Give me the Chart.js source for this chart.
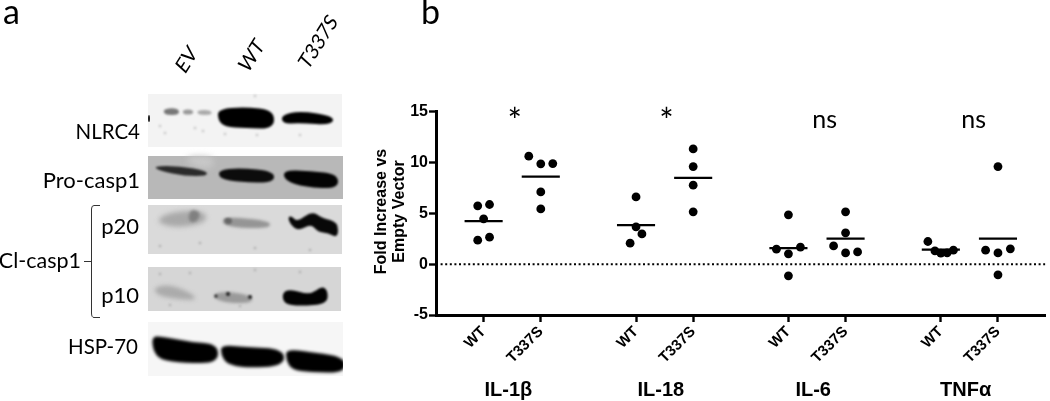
<!DOCTYPE html>
<html><head><meta charset="utf-8">
<style>html,body{margin:0;padding:0;background:#fff}#w{width:1050px;height:401px;position:relative}</style>
<script src="https://cdn.jsdelivr.net/npm/chart.js@4/dist/chart.umd.min.js"></script>
</head><body><div id="w"><canvas id="c"></canvas></div>
<script>
const tickPositions=[2.5,5.5,10.5,13.5,18.5,21.5,26.5,29.5];
const tickLabels=['WT','T337S','WT','T337S','WT','T337S','WT','T337S'];
const yTicks=[-5,0,5,10,15];
const groupLabels=['IL-1β','IL-18','IL-6','TNFα'];
const groupLabelX=[3.8,11.8,19.8,27.8];
const signifLabels=['*','*','ns','ns'];
const signifX=[4.13,12.1,20.4,28.22];
const means=[4.23,8.62,3.84,8.49,1.57,2.52,1.44,2.52];
const v0=[5.74,5.87,4.46,2.66,2.36],  o0=[-.31,.31,0,.31,-.31];
const v1=[10.62,9.87,9.9,7.11,5.44],  o1=[-.63,0,.63,0,0];
const v2=[6.62,3.67,2.98,2.07],       o2=[0,0,.31,-.31];
const v3=[11.34,9.6,7.77,5.15],       o3=[0,0,0,0];
const v4=[4.85,1.48,1.67,1.02,-1.15], o4=[0,-.63,.63,0,0];
const v5=[5.15,3.08,1.8,1.11,1.21],   o5=[0,0,-.63,0,.63];
const v6=[2.23,1.31,1.08,1.11,1.38],  o6=[-.68,-.31,0,.33,.66];
const v7=[9.6,1.38,1.11,1.51,-1.05],  o7=[0,-.65,0,.65,0];
const vals=[v0,v1,v2,v3,v4,v5,v6,v7], offs=[o0,o1,o2,o3,o4,o5,o6,o7];
const sans='"Liberation Sans",Arial,sans-serif', lato='Lato,sans-serif';

const datasets=[];
datasets.push({type:'line',data:[{x:0,y:0},{x:32,y:0}],borderColor:'#000',borderWidth:2,borderDash:[2,2.6],pointRadius:0,parsing:false});
tickPositions.forEach((p,i)=>{
  datasets.push({type:'scatter',data:vals[i].map((v,k)=>({x:p+offs[i][k],y:v})),backgroundColor:'#000',borderWidth:0,pointRadius:4.4});
  datasets.push({type:'line',data:[{x:p-1,y:means[i]},{x:p+1,y:means[i]}],borderColor:'#000',borderWidth:2.2,pointRadius:0});
});

function poly(ctx,pts,col,blur){
  ctx.save();ctx.filter='blur('+blur+'px)';ctx.fillStyle=col;ctx.beginPath();
  const n=pts.length;
  for(let i=0;i<n;i++){const a=pts[i],b=pts[(i+1)%n],mx=(a[0]+b[0])/2,my=(a[1]+b[1])/2;
    if(i===0)ctx.moveTo((pts[n-1][0]+a[0])/2,(pts[n-1][1]+a[1])/2);
    ctx.quadraticCurveTo(a[0],a[1],mx,my);}
  ctx.closePath();ctx.fill();ctx.restore();
}
function specks(ctx,list,col){ctx.save();ctx.filter='blur(.8px)';ctx.fillStyle=col;list.forEach(s=>{ctx.beginPath();ctx.arc(s[0],s[1],s[2]||1.3,0,7);ctx.fill();});ctx.restore();}
function text(ctx,s,x,y,font,align,col){ctx.font=font;ctx.textAlign=align||'left';ctx.textBaseline='alphabetic';ctx.fillStyle=col||'#000';ctx.fillText(s,x,y);}

const blot={id:'blot',beforeDraw(ch){
  const c=ch.ctx;c.save();
  c.fillStyle='#fff';c.fillRect(0,0,1050,401);
  // panels
  c.fillStyle='#f3f3f3';c.fillRect(148,94,194,53);
  c.fillStyle='#b8b8b8';c.fillRect(148,156,195,43);
  poly(c,[[185,156],[215,156],[212,170],[190,165]],'#c8c8c8',3);
  c.fillStyle='#dadada';c.fillRect(148,205,194,49);
  c.fillStyle='#d6d6d6';c.fillRect(148,267,193,44);
  c.fillStyle='#f6f6f6';c.fillRect(148,322,195,54);
  // NLRC4
  poly(c,[[163,110],[170,108],[179,109],[179,115],[165,115]],'#777',1.2);
  poly(c,[[182,110],[192,109],[194,114],[184,115]],'#999',1.2);
  poly(c,[[197,110],[211,110],[212,115],[198,115]],'#aaa',1.2);
  poly(c,[[148,115],[150,115],[150,122],[148,122]],'#222',.6);
  poly(c,[[218,109],[245,107],[274,110],[274,129],[245,128],[225,127],[218,120]],'#000',.9);
  poly(c,[[281,115],[300,111],[334,116],[332,125],[300,123],[283,124]],'#000',.9);
  specks(c,[[195,128],[225,134],[257,135],[165,133],[300,135],[203,131],[255,96],[160,126]],'#c4c4c4');
  // Pro-casp1
  poly(c,[[153,166],[180,166],[207,171],[207,176],[185,176],[160,171]],'#2a2a2a',1.3);
  poly(c,[[218,170],[240,168],[274,171],[274,183],[240,182],[220,179]],'#0c0c0c',1.2);
  poly(c,[[283,170],[310,171],[338,174],[338,189],[305,187],[285,181]],'#030303',1.2);
  // p20
  poly(c,[[158,218],[175,211],[205,211],[207,222],[180,228],[160,224]],'#a9a9a9',2.4);
  poly(c,[[190,209],[201,212],[197,222],[188,222]],'#808080',1.7);
  poly(c,[[222,219],[232,217],[270,221],[270,228],[240,228],[224,225]],'#959595',1.5);
  poly(c,[[224,218],[232,218],[232,224],[225,224]],'#666',1);
  poly(c,[[288,217],[292,216],[297,222],[312,211],[322,218],[338,222],[338,238],[328,233],[318,232],[311,224],[298,231],[290,224]],'#080808',1);
  // p10
  poly(c,[[152,288],[170,284],[195,295],[195,301],[160,297]],'#ababab',2);
  poly(c,[[213,294],[228,291],[252,296],[252,303],[228,303],[215,299]],'#9a9a9a',1.5);
  specks(c,[[216,296,1.5],[228,294,2],[250,297,2]],'#222');
  poly(c,[[282,293],[290,289],[310,295],[322,286],[328,291],[327,304],[300,306],[284,304]],'#030303',.9);
  specks(c,[[160,246],[200,243],[310,250],[255,270],[190,273],[170,305],[300,272],[255,248],[240,306],[160,274]],'#b0b0b0');
  // HSP-70
  poly(c,[[152,337],[160,336],[190,342],[218,344],[218,363],[185,363],[160,360],[153,350]],'#000',1.5);
  poly(c,[[221,345],[245,347],[284,349],[284,366],[245,368],[227,364],[221,355]],'#000',1.5);
  poly(c,[[286,349],[310,352],[345,357],[345,373],[310,372],[292,370],[286,360]],'#000',1.5);
  c.fillStyle='#fff';c.fillRect(343,340,8,40);
  // bracket
  c.strokeStyle='#333';c.lineWidth=1;c.beginPath();
  c.moveTo(100,205.5);c.lineTo(94,205.5);c.quadraticCurveTo(91.5,205.5,91.5,209);
  c.lineTo(91.5,313);c.quadraticCurveTo(91.5,317.5,94,317.5);c.lineTo(100,317.5);
  c.moveTo(84,261.5);c.lineTo(91.5,261.5);c.stroke();
  // labels
  text(c,'a',3,24,'34px '+lato);
  text(c,'b',421,24,'34px '+lato);
  text(c,'NLRC4',140,139,'20.5px '+lato,'right');
  text(c,'Pro-casp1',140,188,'22px '+lato,'right');
  text(c,'p20',139,234,'22px '+lato,'right');
  text(c,'p10',139,303,'22px '+lato,'right');
  text(c,'HSP-70',138,354,'20.5px '+lato,'right');
  text(c,'Cl-casp1',81,268,'21.5px '+lato,'right');
  [['EV',185,75],['WT',248,74],['T337S',308,71]].forEach(l=>{
    c.save();c.translate(l[1],l[2]);c.rotate(-58*Math.PI/180);c.transform(1,0,-.18,1,0,0);
    text(c,l[0],0,0,'20px '+lato);c.restore();});
  c.restore();
}};
const notes={id:'notes',afterDraw(ch){
  const c=ch.ctx,x=ch.scales.x;c.save();
  groupLabels.forEach((g,i)=>text(c,g,x.getPixelForValue(groupLabelX[i]),396,'bold 20px '+sans,'center'));
  signifLabels.forEach((s,i)=>{
    const star=s==='*';
    text(c,s,x.getPixelForValue(signifX[i]),star?133:128,(star?'34px ':'25px ')+lato,'center');
  });
  c.save();c.translate(385.5,211.5);c.rotate(-Math.PI/2);
  text(c,'Fold Increase vs',0,0,'bold 16px '+sans,'center');
  text(c,'Empty Vector',0,18,'bold 16px '+sans,'center');
  c.restore();
  c.restore();
}};
new Chart(document.getElementById('c'),{
  type:'scatter',
  data:{datasets},
  plugins:[blot,notes],
  options:{
    responsive:true,maintainAspectRatio:false,animation:false,
    layout:{padding:{top:111.7,right:1,left:0,bottom:0}},
    plugins:{legend:{display:false},tooltip:{enabled:false}},
    scales:{
      x:{type:'linear',min:0,max:32,
        afterBuildTicks:s=>{s.ticks=tickPositions.map(v=>({value:v}));},
        afterFit:s=>{s.height=86;},
        grid:{display:true,drawOnChartArea:false,drawTicks:true,tickLength:7,tickColor:'#000',tickWidth:2.4},
        border:{color:'#000',width:3},
        ticks:{autoSkip:false,maxRotation:45,minRotation:45,padding:1,color:'#000',
          font:{family:sans,size:15,weight:'bold'},
          callback:function(v){const i=tickPositions.indexOf(v);return i<0?'':tickLabels[i];}}},
      y:{type:'linear',min:-5,max:15,
        afterBuildTicks:s=>{s.ticks=yTicks.map(v=>({value:v}));},
        afterFit:s=>{s.width=436;},
        grid:{display:true,drawOnChartArea:false,drawTicks:true,tickLength:7,tickColor:'#000',tickWidth:2.4},
        border:{color:'#000',width:3},
        title:{display:false},
        ticks:{padding:1,color:'#000',font:{family:sans,size:16,weight:'bold'}}}
    }
  }
});
</script></body></html>
